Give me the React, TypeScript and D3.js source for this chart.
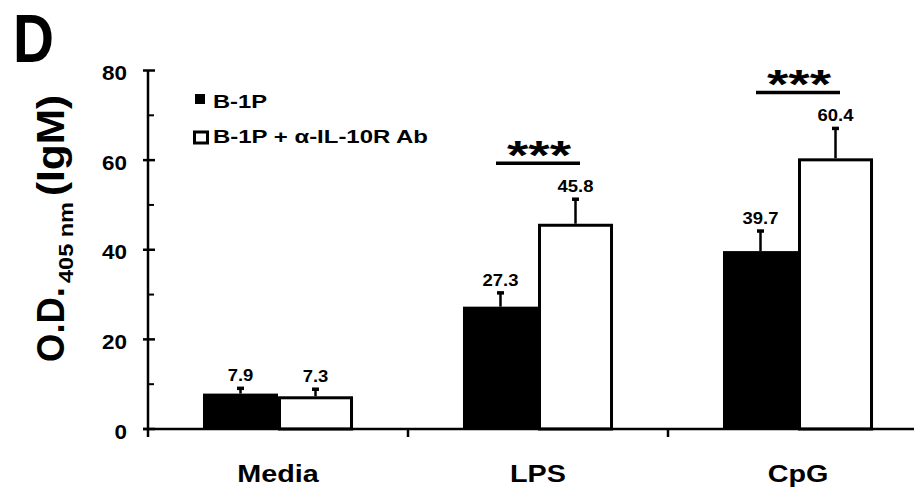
import React from "react";
import * as d3 from "d3";

const categories = ["Media", "LPS", "CpG"];
const seriesNames = ["B-1P", "B-1P + α-IL-10R Ab"];
const b1pValues = [7.9, 27.3, 39.7];
const b1pErrors = [1.4, 3.3, 4.7];
const abValues = [7.3, 45.8, 60.4];
const abErrors = [1.8, 5.7, 6.9];
const significance = ["", "***", "***"];
const majorTicks = [0, 20, 40, 60, 80];
const minorTicks = [10, 30, 50, 70];

const FONT = "'Liberation Sans', Arial, Helvetica, sans-serif";

const W = 914;
const H = 490;

export default function App() {
  const x0 = d3.scaleBand<string>().domain(categories).range([148, 928]).padding(0);
  const x1 = d3
    .scaleBand<string>()
    .domain(seriesNames)
    .range([0, x0.bandwidth()])
    .paddingInner(0)
    .paddingOuter(0.733);
  const y = d3.scaleLinear().domain([0, 80]).range([429, 70.5]);

  const rows = categories.map((c, i) => ({
    cat: c,
    vals: [
      { s: seriesNames[0], v: b1pValues[i], e: b1pErrors[i] },
      { s: seriesNames[1], v: abValues[i], e: abErrors[i] },
    ],
    sig: significance[i],
  }));

  const axisX = 148;
  const base = y(0);

  return (
    <svg
      width={W}
      height={H}
      style={{ position: "absolute", left: 0, top: 0, background: "#fff" }}
      fontFamily={FONT}
      fontWeight="bold"
    >
      <rect x={0} y={0} width={W} height={H} fill="#fff" />
      {/* Panel letter */}
      <text x={13} y={62} fontSize={68} textLength={41} lengthAdjust="spacingAndGlyphs" fill="#000">
        D
      </text>

      {/* Y axis label */}
      <g transform={`translate(64,362) rotate(-90)`} fill="#000">
        <text x={0} y={0} fontSize={38} textLength={75} lengthAdjust="spacingAndGlyphs">
          O.D.
        </text>
        <text x={79} y={9} fontSize={21} textLength={81} lengthAdjust="spacingAndGlyphs">
          405 nm
        </text>
        <text x={166} y={0} fontSize={38} textLength={101} lengthAdjust="spacingAndGlyphs">
          (IgM)
        </text>
      </g>

      {/* Bars */}
      {rows.map((r) => (
        <g key={r.cat} transform={`translate(${x0(r.cat)},0)`}>
          {r.vals.map((d, j) => {
            const bx = x1(d.s)!;
            const bw = x1.bandwidth();
            const top = y(d.v);
            return j === 0 ? (
              <rect key={d.s} x={bx} y={top} width={bw} height={base - top} fill="#000" />
            ) : (
              <rect
                key={d.s}
                x={bx + 1.5}
                y={top + 1.5}
                width={bw - 3}
                height={base - top - 1.5}
                fill="#fff"
                stroke="#000"
                strokeWidth={3}
              />
            );
          })}
          {r.vals.map((d) => {
            const cx = x1(d.s)! + x1.bandwidth() / 2;
            const top = y(d.v);
            const et = y(d.v + d.e);
            return (
              <g key={"e" + d.s}>
                <line x1={cx} x2={cx} y1={top} y2={et} stroke="#000" strokeWidth={2.5} />
                <line x1={cx - 3.5} x2={cx + 3.5} y1={et + 1} y2={et + 1} stroke="#000" strokeWidth={3.5} />
                <text
                  transform={`translate(${cx},${et - 6}) scale(1.12,1)`}
                  textAnchor="middle"
                  fontSize={16.5}
                  fill="#000"
                >
                  {d.v.toFixed(1)}
                </text>
              </g>
            );
          })}
          {r.sig &&
            (() => {
              const cx = x1(seriesNames[0])! + x1.bandwidth();
              const d = r.vals[1];
              const ly = y(d.v + d.e) - 35;
              return (
                <g>
                  <line x1={cx - 42} x2={cx + 42} y1={ly} y2={ly} stroke="#000" strokeWidth={3.5} />
                  <text
                    x={cx + 1}
                    y={ly + 5.4}
                    textAnchor="middle"
                    fontSize={40}
                    textLength={64}
                    lengthAdjust="spacingAndGlyphs"
                    fill="#000"
                  >
                    {r.sig}
                  </text>
                </g>
              );
            })()}
        </g>
      ))}

      {/* Y axis */}
      <line x1={axisX} x2={axisX} y1={y(80)} y2={base + 8} stroke="#000" strokeWidth={2.5} />
      {majorTicks.map((t) => (
        <g key={"M" + t}>
          <line x1={axisX - 5} x2={axisX + 7} y1={y(t)} y2={y(t)} stroke="#000" strokeWidth={2.5} />
          <text
            transform={`translate(127,${y(t) + 9.5}) scale(1.07,1)`}
            textAnchor="end"
            fontSize={21}
            fill="#000"
          >
            {t}
          </text>
        </g>
      ))}
      {minorTicks.map((t) => (
        <line key={"m" + t} x1={axisX} x2={axisX + 6} y1={y(t)} y2={y(t)} stroke="#000" strokeWidth={2} />
      ))}

      {/* X axis */}
      <line x1={axisX - 5} x2={W} y1={base} y2={base} stroke="#000" strokeWidth={2.5} />
      {categories.map((c) => (
        <g key={"xt" + c}>
          <line
            x1={x0(c)! + x0.bandwidth()}
            x2={x0(c)! + x0.bandwidth()}
            y1={base}
            y2={base + 8}
            stroke="#000"
            strokeWidth={2.5}
          />
          <text
            transform={`translate(${x0(c)! + x1(seriesNames[1])!},482) scale(1.25,1)`}
            textAnchor="middle"
            fontSize={23}
            fill="#000"
          >
            {c}
          </text>
        </g>
      ))}

      {/* Legend */}
      <rect x={195} y={94} width={10} height={10} fill="#000" />
      <text x={213} y={108} fontSize={18.6} textLength={54} lengthAdjust="spacingAndGlyphs" fill="#000">
        {seriesNames[0]}
      </text>
      <rect x={194.5} y={132} width={13} height={11} fill="#fff" stroke="#000" strokeWidth={3} />
      <text x={213} y={143} fontSize={18.6} textLength={215} lengthAdjust="spacingAndGlyphs" fill="#000">
        {seriesNames[1]}
      </text>
    </svg>
  );
}
